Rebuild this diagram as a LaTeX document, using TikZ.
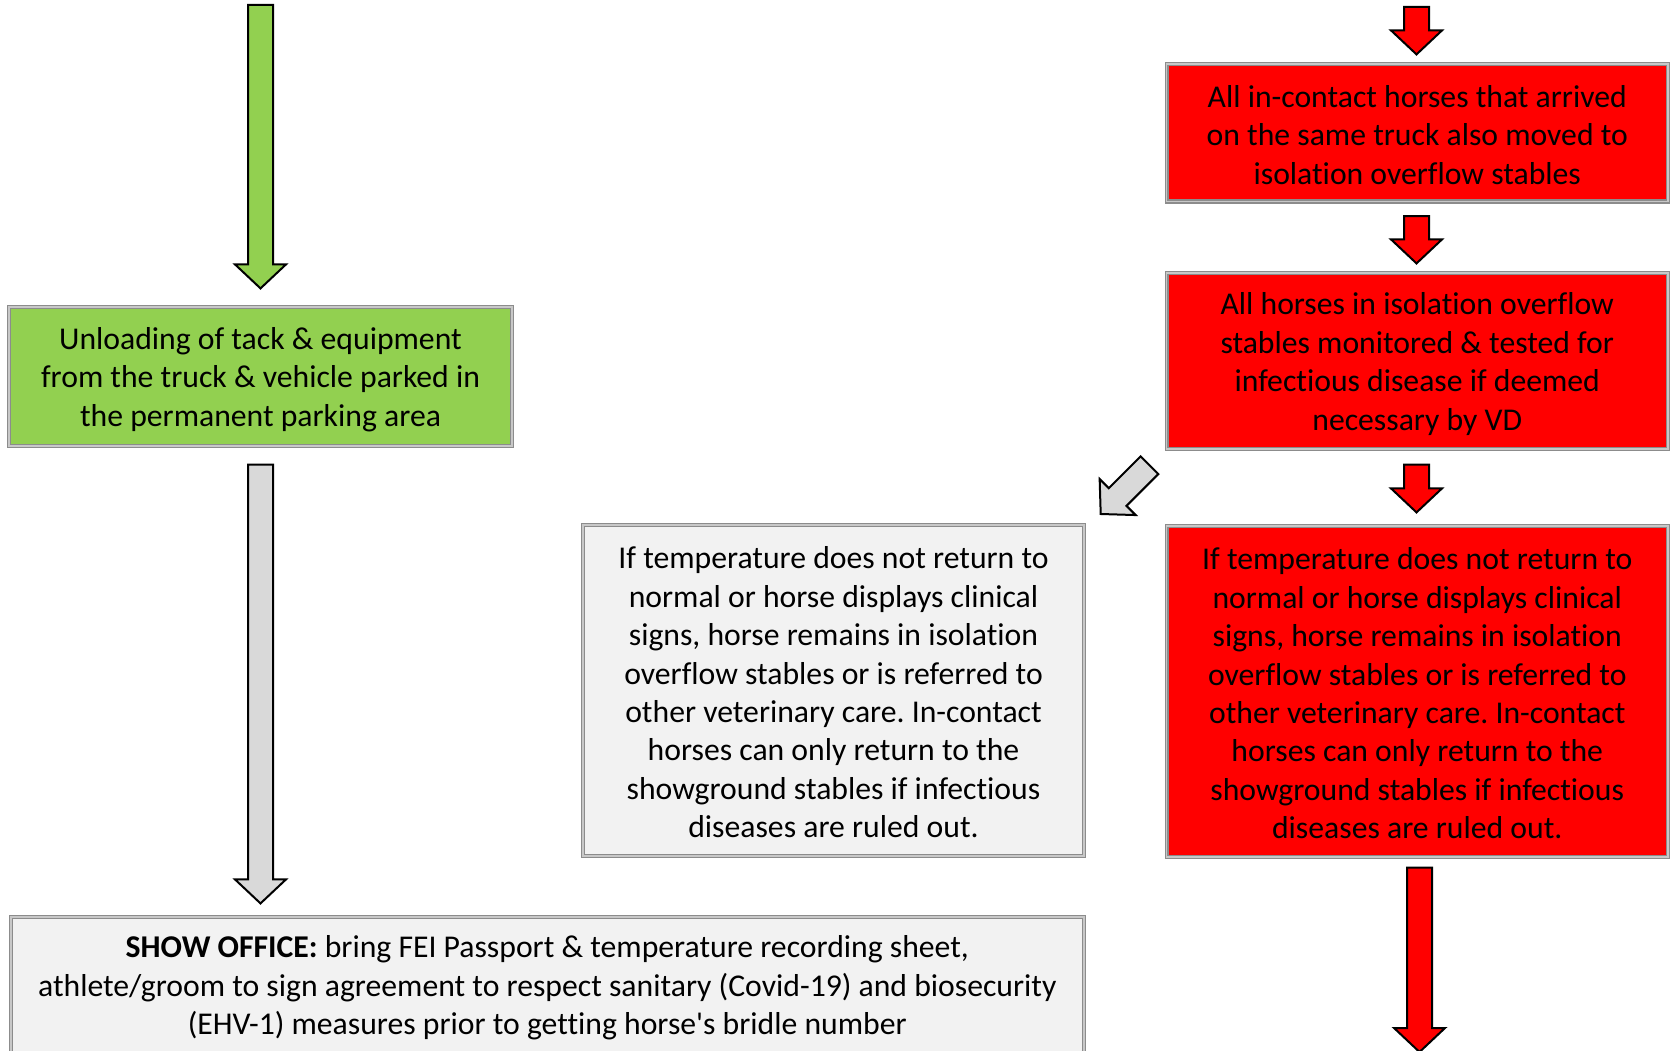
\documentclass[tikz,border=0pt]{standalone}
\usepackage{fontspec}
\setmainfont{Carlito}[Ligatures={NoCommon}]
\usetikzlibrary{calc}
\definecolor{xgreen}{HTML}{92D050}
\definecolor{xred}{HTML}{FF0000}
\definecolor{xlight}{HTML}{F2F2F2}
\definecolor{xarrgray}{HTML}{D9D9D9}
\definecolor{xborder}{HTML}{8C8C8C}
\definecolor{xborderin}{HTML}{C8C8C8}
\newcommand{\barrow}[3]{%
 \coordinate (ba-b) at ($(#3)!24pt!(#2)$);
 \filldraw[arrowline, fill=#1]
   ($(#2)!12.5pt!90:(#3)$) -- ($(ba-b)!12.5pt!90:(#3)$) -- ($(ba-b)!25.5pt!90:(#3)$) -- (#3)
   -- ($(ba-b)!25.5pt!-90:(#3)$) -- ($(ba-b)!12.5pt!-90:(#3)$) -- ($(#2)!12.5pt!-90:(#3)$) -- cycle;}
\frenchspacing
\begin{document}
\begin{tikzpicture}[x=1pt,y=-1pt,
 box/.style={draw=xborder, double=xborderin, double distance=1.6pt, line width=1.2pt, inner sep=0pt},
 txt/.style={inner sep=0pt, align=center, font=\fontsize{31.7}{38.4}\selectfont, text=black},
 arrowline/.style={draw=black, line width=2pt, line join=miter}]
\clip (0,0) rectangle (1672,1051);
\fill[white] (0,0) rectangle (1672,1051);

\node[box, fill=xgreen, minimum width=503, minimum height=139] (green) at (260.5,376.5) {};
\node[txt] (green-t) at ($(green)+(0,3)$)
 {Unloading of tack \& equipment\\from the truck \& vehicle parked in\\the permanent parking area};

\node[box, fill=xlight, minimum width=1073, minimum height=136] (office) at (547.3,985) {};
\node[txt] (office-t) at ($(office)+(0,3)$)
 {\textbf{SHOW OFFICE:} bring FEI Passport \& temperature recording sheet,\\athlete/groom to sign agreement to respect sanitary (Covid-19) and biosecurity\\(EHV-1) measures prior to getting horse\textquotesingle s bridle number};

\node[box, fill=xlight, minimum width=501, minimum height=331] (grayres) at (833.5,690.5) {};
\node[txt] (grayres-t) at ($(grayres)+(0,2)$)
 {If temperature does not return to\\normal or horse displays clinical\\signs, horse remains in isolation\\overflow stables or is referred to\\other veterinary care. In-contact\\horses can only return to the\\showground stables if infectious\\diseases are ruled out.};

\node[box, fill=xred, minimum width=501.5, minimum height=137.5] (red1) at (1417.25,132.75) {};
\node[txt] (red1-t) at ($(red1)+(0,2)$)
 {All in-contact horses that arrived\\on the same truck also moved to\\isolation overflow stables};

\node[box, fill=xred, minimum width=501.5, minimum height=176] (red2) at (1417.25,361) {};
\node[txt] (red2-t) at ($(red2)+(0,3)$)
 {All horses in isolation overflow\\stables monitored \& tested for\\infectious disease if deemed\\necessary by VD};

\node[box, fill=xred, minimum width=501.5, minimum height=331] (red3) at (1417.25,691.5) {};
\node[txt] (red3-t) at ($(red3)+(0,2)$)
 {If temperature does not return to\\normal or horse displays clinical\\signs, horse remains in isolation\\overflow stables or is referred to\\other veterinary care. In-contact\\horses can only return to the\\showground stables if infectious\\diseases are ruled out.};

% coordinates for block arrows
\coordinate (g0) at (260.5,5);
\coordinate (g1) at ($(green.north)+(0,-18)$);
\coordinate (y0) at ($(green.south)+(0,18)$);
\coordinate (y1) at ($(green.south |- office.north)+(0,-13)$);
\coordinate (r0) at (1416.5,7);
\coordinate (r1) at ($(red1.north)+(-0.75,-9)$);
\coordinate (r2) at ($(red1.south)+(-0.75,14)$);
\coordinate (r3) at ($(red2.north)+(-0.75,-9)$);
\coordinate (r4) at ($(red2.south)+(-0.75,15)$);
\coordinate (r5) at ($(red3.north)+(-0.75,-13)$);
\coordinate (r6) at ($(red3.south)+(2.25,10)$);
\coordinate (r7) at (1419.5,1052);
\coordinate (d0) at (1149.5,465.2);
\coordinate (d1) at (1100.7,514);

\barrow{xgreen}{g0}{g1}
\barrow{xarrgray}{y0}{y1}
\barrow{xred}{r0}{r1}
\barrow{xred}{r2}{r3}
\barrow{xred}{r4}{r5}
\barrow{xred}{r6}{r7}
\barrow{xarrgray}{d0}{d1}
\end{tikzpicture}
\end{document}
